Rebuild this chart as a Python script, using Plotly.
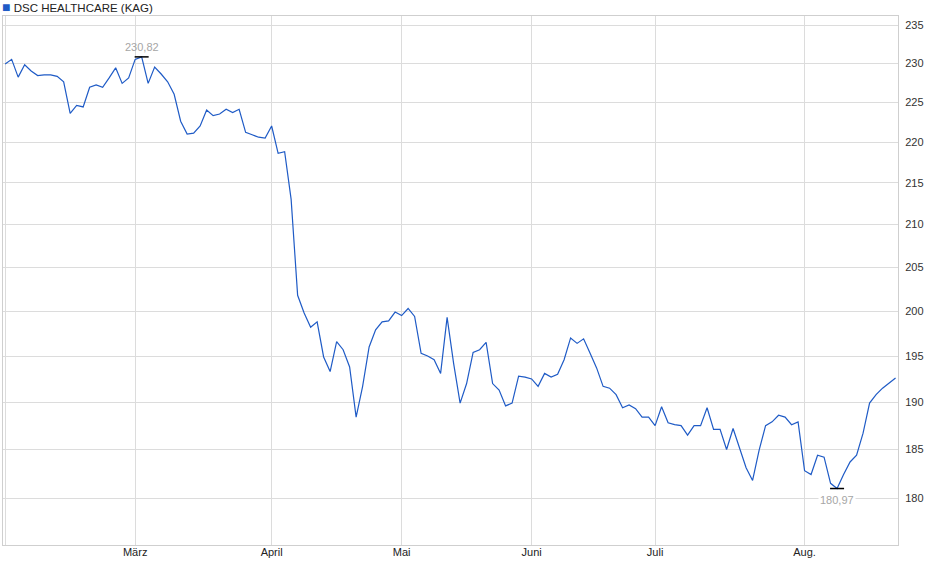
import numpy as np
import pandas as pd
import plotly.graph_objects as go

fund_name = "DSC HEALTHCARE (KAG)"
start_date = "2025-02-03"
end_date = "2025-08-22"
# days without a published price (besides weekends)
holidays = ["2025-04-18", "2025-04-21", "2025-05-01", "2025-05-29",
            "2025-06-09", "2025-06-19", "2025-08-15"]
month_labels = ["", "März", "April", "Mai", "Juni", "Juli", "Aug."]
y_ticks = [180, 185, 190, 195, 200, 205, 210, 215, 220, 225, 230, 235]

prices = [
    229.9, 230.5, 228.2, 229.8, 229.0, 228.4, 228.5, 228.5, 228.3, 227.6,
    223.6, 224.6, 224.4, 226.9, 227.2, 226.9, 228.1, 229.4, 227.4, 228.1,
    230.5, 230.82, 227.4, 229.5, 228.6, 227.6, 226.0, 222.6, 221.0, 221.1,
    222.0, 224.0, 223.3, 223.5, 224.1, 223.7, 224.1, 221.2, 220.9, 220.6,
    220.5, 222.0, 218.6, 218.8, 213.0, 201.8, 199.8, 198.2, 198.8, 194.9,
    193.3, 196.6, 195.7, 193.8, 188.4, 191.7, 196.0, 197.9, 198.8, 198.9,
    199.9, 199.5, 200.3, 199.4, 195.3, 195.0, 194.6, 193.1, 199.3, 194.2,
    189.9, 192.0, 195.4, 195.7, 196.5, 192.0, 191.3, 189.6, 189.9, 192.8,
    192.7, 192.5, 191.7, 193.1, 192.7, 193.0, 194.6, 197.0, 196.4, 196.9,
    195.3, 193.7, 191.7, 191.5, 190.8, 189.4, 189.7, 189.3, 188.4, 188.4,
    187.5, 189.5, 187.8, 187.6, 187.5, 186.5, 187.5, 187.5, 189.4, 187.1,
    187.1, 185.0, 187.2, 185.2, 183.1, 181.8, 184.9, 187.5, 187.9, 188.6,
    188.4, 187.6, 187.9, 182.8, 182.4, 184.4, 184.2, 181.5, 180.97, 182.4,
    183.7, 184.4, 186.7, 189.9, 190.8, 191.5, 192.1, 192.6,
]

dates = pd.bdate_range(start_date, end_date, freq="C", holidays=holidays)
df = pd.DataFrame({"date": dates, "price": prices})

month_starts = df.groupby(df["date"].dt.month)["date"].min().tolist()

i_max = df["price"].idxmax()
i_min = df["price"].idxmin()

line_blue = "#1f5bc6"
font_family = "Liberation Sans, Arial, sans-serif"

fig = go.Figure()

fig.add_trace(go.Scatter(
    x=df["date"], y=df["price"], mode="lines",
    line=dict(color=line_blue, width=1.2),
    hoverinfo="x+y", showlegend=False,
))

fig.add_trace(go.Scatter(
    x=[df["date"][i_max], df["date"][i_min]],
    y=[df["price"][i_max], df["price"][i_min]],
    mode="markers",
    marker=dict(symbol="line-ew", size=10, line=dict(color="black", width=1.5)),
    hoverinfo="skip", showlegend=False,
))

label_font = dict(family=font_family, size=11, color="#a6a6a6")

fig.add_annotation(
    x=df["date"][i_max], y=np.log10(df["price"][i_max]),
    text=f"{df['price'][i_max]:.2f}".replace(".", ","),
    showarrow=False, yanchor="bottom", yshift=2, font=label_font,
)
fig.add_annotation(
    x=df["date"][i_min], y=np.log10(df["price"][i_min]),
    text=f"{df['price'][i_min]:.2f}".replace(".", ","),
    showarrow=False, yanchor="top", yshift=-3, bgcolor="white", font=label_font,
)

# legend key
fig.add_annotation(
    xref="paper", yref="paper", x=0, y=1, xanchor="left", yanchor="bottom",
    xshift=-3, yshift=-1,
    text=f"<span style='font-size:14px;color:{line_blue}'>■</span> " + fund_name,
    showarrow=False,
    font=dict(family=font_family, size=11.5, color="#222222"),
)

grid = "#dcdcdc"

fig.update_xaxes(
    type="date",
    rangebreaks=[dict(bounds=["sat", "mon"]), dict(values=holidays)],
    range=["2025-01-31 16:00", "2025-08-22 09:00"],
    tickmode="array", tickvals=month_starts, ticktext=month_labels,
    showgrid=True, gridcolor=grid, gridwidth=1,
    showline=True, linecolor="#cfcfcf", mirror=True,
    ticks="", ticklabelstandoff=-3,
    tickfont=dict(size=11, color="#222222"),
    zeroline=False,
)
fig.update_yaxes(
    type="log",
    range=[np.log10(175.3), np.log10(236.2)],
    tickmode="array", tickvals=y_ticks, ticktext=[str(v) for v in y_ticks],
    side="right",
    showgrid=True, gridcolor=grid, gridwidth=1,
    showline=True, linecolor="#cfcfcf", mirror=True,
    ticks="", ticklabelstandoff=4,
    tickfont=dict(size=11, color="#333333"),
    zeroline=False,
)

fig.update_layout(
    width=940, height=579,
    margin=dict(l=3, r=42, t=16, b=34, autoexpand=False),
    paper_bgcolor="white", plot_bgcolor="white",
    font=dict(family=font_family, size=11, color="#222222"),
    showlegend=False,
)

# page has a default body margin; drop it so the figure sits at the window corner
fig.write_html(
    "out.html",
    config={"displayModeBar": False},
    post_script="document.body.style.margin='0';",
)
